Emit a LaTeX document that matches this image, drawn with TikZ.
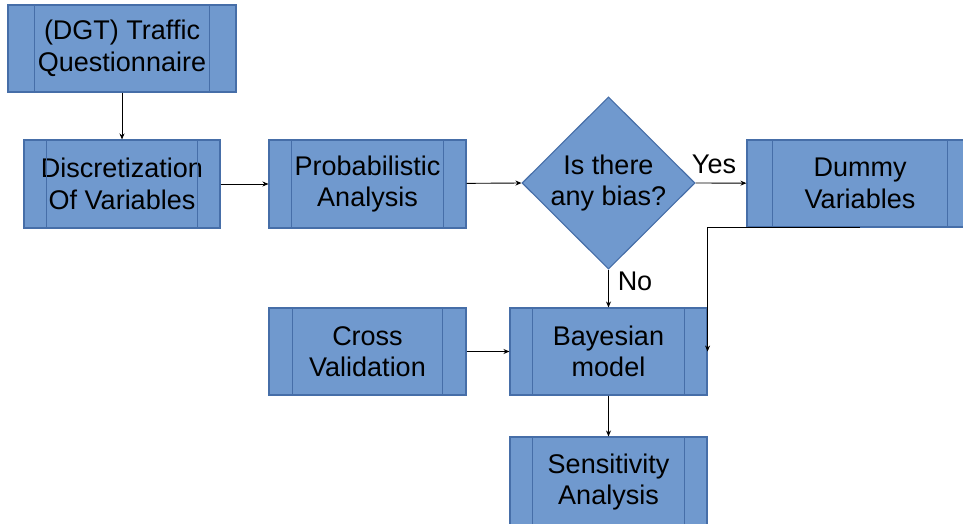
\documentclass[tikz,border=0pt]{standalone}
\usepackage{fontspec}
\setmainfont{Liberation Sans}
\usetikzlibrary{shapes.geometric,arrows.meta}
\definecolor{boxfill}{RGB}{112,153,206}
\definecolor{boxline}{RGB}{70,110,168}
\begin{document}
\begin{tikzpicture}[x=1pt,y=-1pt,
  proc/.style={draw=boxline,fill=boxfill,line width=1.1pt,inner sep=0pt,align=center,
    font=\fontsize{27}{31.5}\selectfont},
  dec/.style={diamond,draw=boxline,fill=boxfill,line width=1.1pt,inner sep=0pt,align=center,
    font=\fontsize{27}{31.5}\selectfont},
  inner/.style={draw=boxline,line width=1.1pt},
  arr/.style={draw=black,line width=0.9pt,-{Stealth[length=6pt,width=5pt]}},
  lab/.style={font=\fontsize{27}{32}\selectfont}]
\useasboundingbox (0,0) rectangle (963,524);
\clip (0,0) rectangle (963,524);
\node[proc,minimum width=228pt,minimum height=87pt] (q) at (122,48.5) {(DGT) Traffic\\Questionnaire};
\node[proc,minimum width=196pt,minimum height=88pt] (d) at (122,184) {Discretization\\Of Variables};
\node[proc,minimum width=197pt,minimum height=88pt] (p) at (367.5,184) {Probabilistic\\Analysis};
\node[dec,minimum width=173pt,minimum height=163pt] (b) at (608.5,183) {Is there\\any bias?};
\node[proc,minimum width=226pt,minimum height=87pt] (dv) at (860,183.5) {Dummy\\Variables};
\node[proc,minimum width=197pt,minimum height=87pt] (cv) at (367.5,351.5) {Cross\\Validation};
\node[proc,minimum width=197pt,minimum height=87pt] (bm) at (608.5,351.5) {Bayesian\\model};
\node[proc,minimum width=197pt,minimum height=90pt] (sa) at (608.5,482) {Sensitivity\\Analysis};
% inner vertical lines
\foreach \n/\o in {q/27,d/23,p/23,dv/26,cv/24,bm/23,sa/23}{
  \draw[inner] ([xshift=\o pt]\n.north west) -- ([xshift=\o pt]\n.south west);
  \draw[inner] ([xshift=-\o pt]\n.north east) -- ([xshift=-\o pt]\n.south east);
}
% connectors
\draw[arr] (q) -- (d);
\draw[arr] (d) -- (p);
\draw[arr] (p) -- (b.west);
\draw[arr] (b.east) -- (dv);
\draw[arr] (b.south) -- (bm);
\draw[arr] (cv) -- (bm);
\draw[arr] (bm) -- (sa);
\draw[arr] (dv.south) -| (bm.east);
\node[lab] (yes) at (714,164) {Yes};
\node[lab] (no) at (635,281) {No};
\end{tikzpicture}
\end{document}
